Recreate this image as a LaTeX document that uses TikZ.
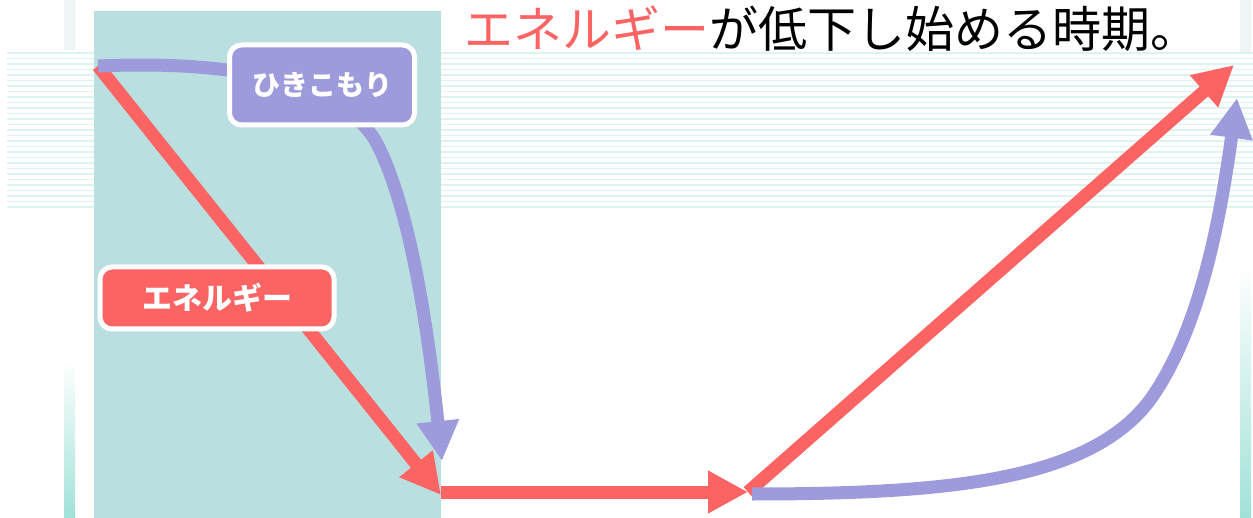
\documentclass[tikz,border=0pt]{standalone}
\usepackage{fontspec}
\usepackage{xcolor}
\usepackage{tikz}
\usetikzlibrary{arrows.meta}
\newfontfamily\jpfont{Noto Sans CJK JP}
\definecolor{enred}{RGB}{252, 99, 99}
\definecolor{hkpurple}{RGB}{158, 155, 220}
\definecolor{panelteal}{RGB}{186, 223, 225}
\definecolor{stripecyan}{RGB}{220, 243, 241}
\definecolor{barcyan}{RGB}{160, 226, 216}
\definecolor{bargray}{RGB}{238, 245, 244}

\begin{document}
\begin{tikzpicture}[x=1pt,y=-1pt,
    flow/.style={line width=13pt, -{Triangle[length=40pt,width=40pt]}},
    tag/.style={draw=white, line width=5pt, rounded corners=12pt, inner sep=0pt,
        text=white, font=\jpfont\bfseries\fontsize{28}{28}\selectfont}]
\useasboundingbox (0,0) rectangle (1253,518);

% Background stripes and side bars
\foreach \i in {0,...,28} {
    \draw[stripecyan, line width=1.6pt] (7,53+\i*5.5) -- (1253,53+\i*5.5);
}
\fill[bargray] (64,0) rectangle (75,50);
\fill[bargray] (1240,0) rectangle (1251,52);
\shade[top color=white, bottom color=barcyan] (64,360) rectangle (75,518);
\shade[top color=white, bottom color=barcyan] (1240,265) rectangle (1251,518);

% Panel
\fill[panelteal] (94,11) rectangle (441,518);

% Title
\node[anchor=west, inner sep=0pt, font=\jpfont\fontsize{49}{49}\selectfont] (title) at (464,29)
    {\textcolor{enred}{エネルギー}が低下し始める時期。};

% Key points
\coordinate (start) at (98,66);
\coordinate (low) at (441,495);
\coordinate (lowP) at (442,461);
\coordinate (flat) at (441,492);
\coordinate (mid) at (748,492);
\coordinate (midP) at (752,494);
\coordinate (endR) at (1234,65);
\coordinate (endP) at (1237,98);

% Energy
\draw[flow, enred] (start) -- (low);
\draw[flow, enred] (flat) -- (mid);
\draw[flow, enred] (mid) -- (endR);

% Withdrawal
\draw[flow, hkpurple] (start) .. controls (280,58) and (350,100) .. (375,140)
    .. controls (405,195) and (425,300) .. (lowP);
\draw[flow, hkpurple] (midP) .. controls (950,494) and (1090,480) .. (1150,400)
    .. controls (1200,330) and (1220,220) .. (endP);

% Labels
\node[tag, fill=hkpurple, minimum width=185pt, minimum height=80pt] (hiki) at (322,85) {ひきこもり};
\node[tag, fill=enred, minimum width=234pt, minimum height=62pt,
    font=\jpfont\bfseries\fontsize{30}{30}\selectfont] (energy) at (217,298) {エネルギー};
\end{tikzpicture}
\end{document}
